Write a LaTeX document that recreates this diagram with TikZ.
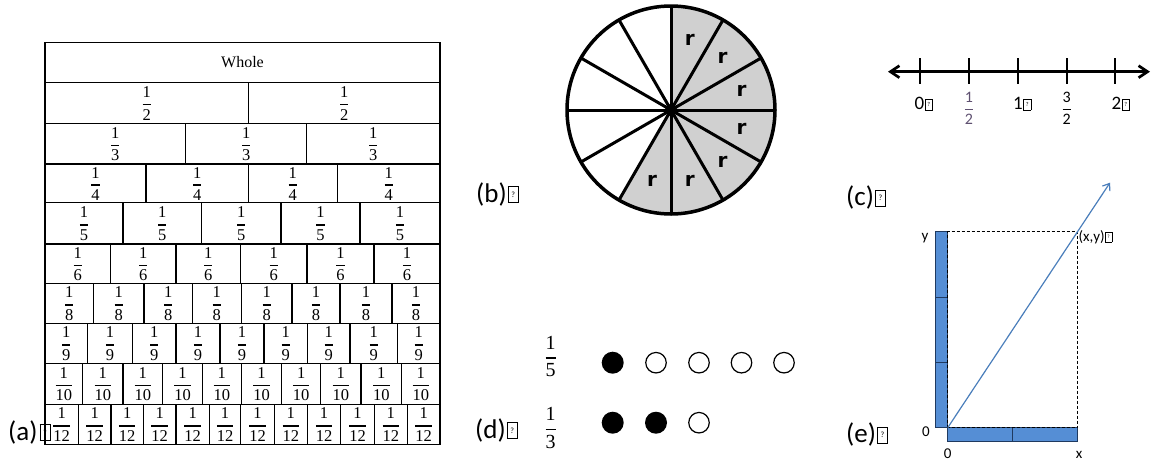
\RequirePackage{fix-cm}
\documentclass[tikz,border=0pt]{standalone}
\usepackage{fontspec}
\usepackage{amsmath}
\usetikzlibrary{arrows.meta}
\newfontfamily\lab{Carlito}
\newfontfamily\djv{DejaVu Sans}
\newfontfamily\ser{Liberation Serif}
\definecolor{sectgray}{HTML}{D0D0D0}
\definecolor{barblue}{HTML}{558ED5}
\definecolor{barline}{HTML}{1F3A60}
\definecolor{arrblue}{HTML}{4A7EBB}
\definecolor{halfcol}{HTML}{5E5070}
% missing-glyph box as printed in the reference
\newcommand\tofu[3]{{\setlength\fboxsep{0pt}\setlength\fboxrule{0.6pt}\framebox[#1]{\rule{0pt}{#2}\raisebox{\dimexpr(#2-#3*7/10)/2\relax}{\fontsize{#3}{#3}\selectfont ?}}}}
% serif stacked fraction with a heavier bar
\newcommand\sfr[3]{$\genfrac{}{}{#3}{0}{\text{\ser #1}}{\text{\ser #2}}$}
\newcommand\fracrow[4]{%
  \foreach \b [remember=\b as \a (initially 45), count=\i] in {#4,440}{%
    \node[fraclab] (f#3-\i) at ({(\a+\b)/2},{(#1+#2)/2+0.5}) {\sfr{1}{#3}{1.3pt}};
    \draw[wall] (\b,#1) -- (\b,#2);
  }}
\begin{document}
\begin{tikzpicture}[x=1pt,y=-1pt,
  wall/.style={line width=1.5pt},
  fraclab/.style={inner sep=0pt,font=\fontsize{16.5}{19}\selectfont},
  panellab/.style={inner sep=0pt,anchor=base west,font=\lab\fontsize{27}{32}\selectfont},
  numlab/.style={inner sep=0pt,anchor=base west,font=\lab\fontsize{19}{22}\selectfont},
  numfrac/.style={inner sep=0pt,font=\lab\fontsize{16}{19}\selectfont},
  spoke/.style={line width=3pt},
  rim/.style={line width=3.5pt},
  rlab/.style={inner sep=0pt,font=\djv\bfseries\fontsize{20}{24}\selectfont},
  fdot/.style={circle,fill=black,minimum size=22pt,inner sep=0pt},
  odot/.style={circle,draw=black,line width=1.2pt,minimum size=20.5pt,inner sep=0pt},
  dfrac/.style={inner sep=0pt,font=\fontsize{20}{24}\selectfont},
  bar/.style={fill=barblue,draw=barline,line width=1pt},
  glab/.style={inner sep=0pt,font=\lab\fontsize{15}{18}\selectfont}
]
\useasboundingbox (0,0) rectangle (1151,464);

% ---------- (a) fraction wall ----------
\fracrow{82.3}{123.3}{2}{248.3}
\fracrow{123.3}{164}{3}{185.7,306.7}
\fracrow{164}{202.7}{4}{146,248.3,337.3}
\fracrow{202.7}{244}{5}{123,201.7,281,360}
\fracrow{244}{283.3}{6}{110.7,176,240.7,307,374}
\fracrow{283.3}{323.3}{8}{93.3,144,192.3,241.3,292,340,392}
\fracrow{323.3}{363.3}{9}{87.3,132.7,176,220,264,307.3,350,397.3}
\fracrow{363.3}{404.3}{10}{82.7,123,162.7,202.3,241.3,281.7,320.7,361,401.7}
\fracrow{404.3}{444.3}{12}{78.3,111,143.3,176,209.3,240.7,274.3,307.3,340.7,374.3,407.3}
\foreach \y in {82.3,123.3,164,202.7,244,283.3,323.3,363.3,404.3}
  \draw[wall] (45,\y) -- (440,\y);
\draw[wall] (45,42.7) rectangle (440,444.3);
\node[inner sep=0pt,font=\ser\fontsize{16}{19}\selectfont] (whole) at (242.5,62.5) {Whole};
\node[panellab] (la) at (8,440) {(a)\kern2pt\tofu{11pt}{15pt}{8pt}};

% ---------- (b) circle ----------
\node[panellab] (lb) at (476,202) {(b)\kern1pt\tofu{11pt}{15pt}{8pt}};
\begin{scope}[shift={(671,110)},y=1pt]
  \coordinate (cc) at (0,0);
  \fill[sectgray] (cc) -- (-120:104) arc[start angle=-120,end angle=90,radius=104] -- cycle;
  \foreach \a in {0,30,...,330} \draw[spoke] (cc) -- (\a:104);
  \draw[rim] (cc) circle[radius=104];
  \fill (cc) circle[radius=6];
  \foreach \a [count=\i] in {75,45,15,-15,-45,-75,-105}
    \node[rlab] (r\i) at (\a:73) {r};
\end{scope}

% ---------- (c) number line ----------
\node[panellab] (lc) at (846,205.5) {(c)\kern1pt\tofu{11pt}{15pt}{8pt}};
\coordinate (nlL) at (888,71.7);
\coordinate (nlR) at (1150,71.7);
\draw[line width=2.7pt,{Straight Barb[length=9pt,width=12pt]}-{Straight Barb[length=9pt,width=12pt]}] (nlL) -- (nlR);
\foreach \x [count=\i] in {920,969,1018.3,1066.7,1115.3}
  \draw[line width=2pt] (\x,58) coordinate (tk\i) -- (\x,83.5);
\node[numlab] (n0) at (914.5,109.5) {0\kern0.5pt\tofu{8pt}{10pt}{6pt}};
\node[numlab] (n1) at (1013,109.5) {1\kern0.5pt\tofu{8pt}{10pt}{6pt}};
\node[numlab] (n2) at (1111.5,109.5) {2\kern0.5pt\tofu{8pt}{10pt}{6pt}};
\node[numfrac,text=halfcol] (nh) at (969,108.3) {$\dfrac{\text{1}}{\text{2}}$};
\node[numfrac] (nth) at (1066.7,108.3) {$\dfrac{\text{3}}{\text{2}}$};

% ---------- (d) dots ----------
\node[panellab] (ld) at (475,438) {(d)\kern1pt\tofu{11pt}{15pt}{8pt}};
\node[dfrac] (q5) at (550.7,356.5) {\sfr{1}{5}{1.3pt}};
\node[dfrac] (q3) at (550.7,428) {\sfr{1}{3}{1.3pt}};
\node[fdot] (a1) at (612.7,362.7) {};
\node[odot] (a2) at (656,362.7) {};
\node[odot] (a3) at (699,362.7) {};
\node[odot] (a4) at (741.5,362.7) {};
\node[odot] (a5) at (784,362.7) {};
\node[fdot] (b1) at (612.7,422.7) {};
\node[fdot] (b2) at (656,422.7) {};
\node[odot] (b3) at (699,422.7) {};

% ---------- (e) vector ----------
\node[panellab] (le) at (846,442.5) {(e)\kern1pt\tofu{11pt}{15pt}{8pt}};
\coordinate (O) at (947.7,427.7);
\coordinate (P) at (1077.7,231.7);
\coordinate (T) at (1110,182.7);
\filldraw[bar] (935,231.7) rectangle (947.7,297.3);
\filldraw[bar] (935,297.3) rectangle (947.7,362.7);
\filldraw[bar] (935,362.7) rectangle (947.7,427.7);
\filldraw[bar] (947.7,427.7) rectangle (1012.7,441);
\filldraw[bar] (1012.7,427.7) rectangle (1077.7,441);
\draw[line width=0.8pt,dash pattern=on 3pt off 2pt] (O) rectangle (P);
\draw[arrblue,line width=1.2pt,-{Straight Barb[length=6pt,width=9pt]}] (O) -- (T);
\node[glab] (gy) at (925,238.5) {y};
\node[glab] (g0a) at (926,431.5) {0};
\node[glab] (g0b) at (947.7,454) {0};
\node[glab] (gx) at (1079,454.5) {x};
\node[glab,anchor=base west] (gxy) at (1078.3,241.7) {(x,y)\kern0.5pt\tofu{7pt}{9pt}{5pt}};
\end{tikzpicture}
\end{document}
